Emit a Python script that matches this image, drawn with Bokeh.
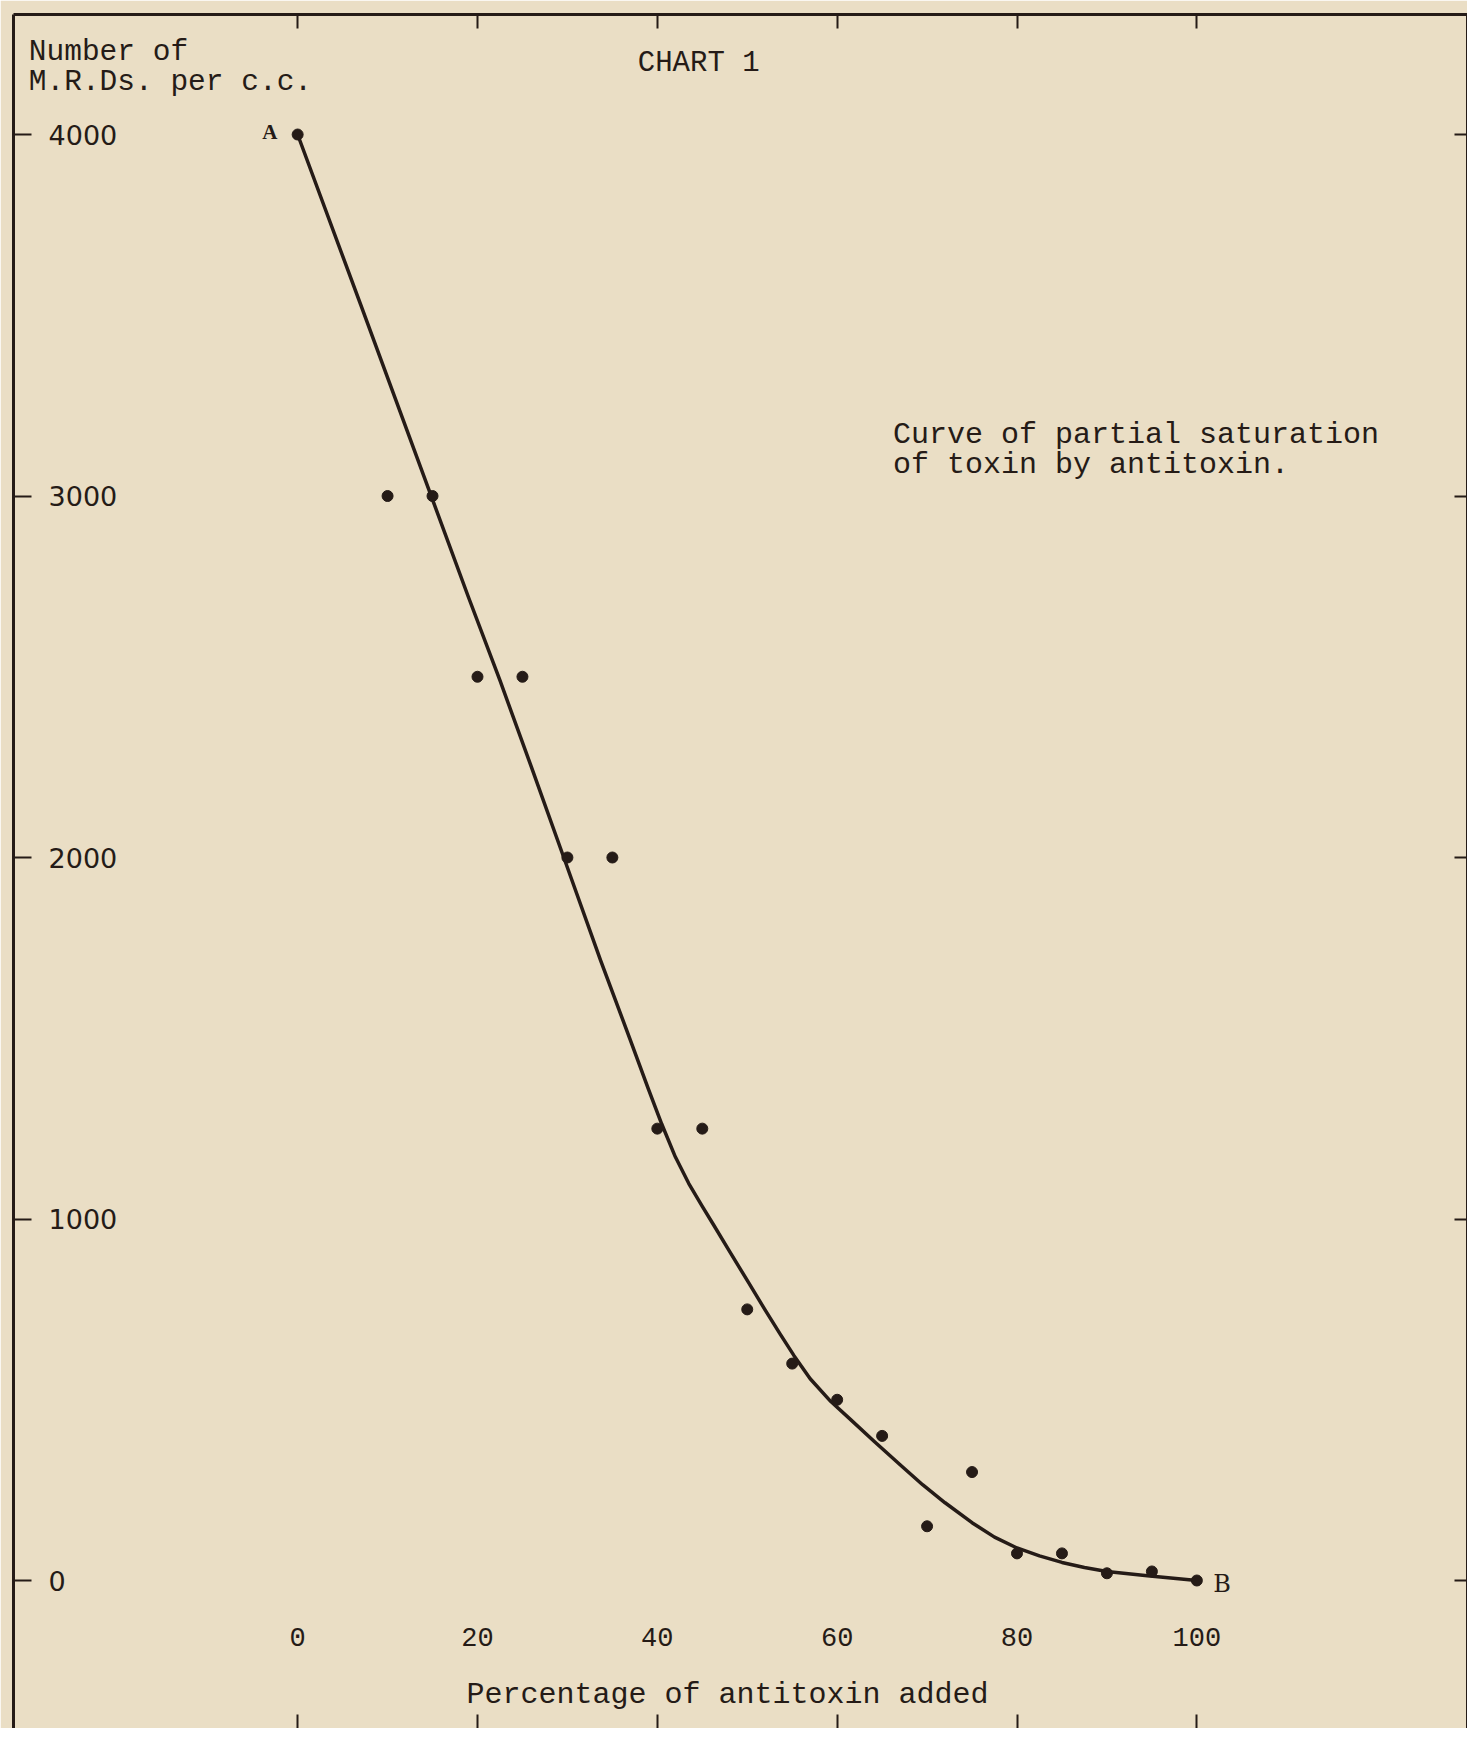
from bokeh.plotting import figure
from bokeh.models import LinearAxis, FixedTicker, Range1d, CustomJSTickFormatter
from bokeh.core.properties import value
from bokeh.embed import file_html
from bokeh.resources import INLINE

# ---- data ----
pct_points = [0, 10, 15, 20, 25, 30, 35, 40, 45, 50, 55, 60, 65, 70, 75, 80, 85, 90, 95, 100]
mrd_points = [4000, 3000, 3000, 2500, 2500, 2000, 2000, 1250, 1250, 750, 600, 500, 400, 150, 300, 75, 75, 20, 25, 0]

# hand-drawn smooth curve
curve_pct = [0, 7, 15, 19, 22.5, 26, 29.6, 33.7, 37, 39, 40.5, 42, 43.5, 45, 46.3, 48, 50, 52, 53.7, 55.2,
             57, 59.3, 61.5, 64.1, 67, 69.5, 72, 75, 77.5, 80, 82.5, 85, 87.5, 90, 94.5, 100]
curve_mrd = [4000, 3530, 2990, 2720, 2490, 2250, 2000, 1715, 1495, 1360, 1262, 1172, 1098, 1035, 982, 912, 830, 748, 680, 622,
             558, 495, 445, 385, 320, 265, 215, 160, 120, 90, 68, 50, 36, 25, 13, 0]

x_ticks = [0, 20, 40, 60, 80, 100]
x_tick_labels = ["0", "20", "40", "60", "80", "100"]
y_ticks = [0, 1000, 2000, 3000, 4000]
y_tick_labels = ["0", "1000", "2000", "3000", "4000"]

title_text = "CHART 1"
y_title_lines = ["Number of", "M.R.Ds. per c.c."]
note_lines = ["Curve of partial saturation", "of toxin by antitoxin."]
x_title = "Percentage of antitoxin added"

PAPER = "#eadec5"
INK = "#251b17"
MONO = "Liberation Mono"

p = figure(width=1467, height=1728, output_backend="svg", toolbar_location=None,
           x_range=Range1d(-31.6, 130.1), y_range=Range1d(-409.4, 4332),
           x_axis_location=None, y_axis_location=None,
           min_border_left=13, min_border_top=14, min_border_right=0, min_border_bottom=0)
p.background_fill_color = PAPER
p.border_fill_color = PAPER
p.outline_line_color = None
p.grid.visible = False

blank = CustomJSTickFormatter(code="return ''")

def make_axis(ticks, tick_in, show_line=True):
    ax = LinearAxis(ticker=FixedTicker(ticks=ticks), formatter=blank)
    ax.major_tick_in = tick_in
    ax.major_tick_out = 0
    ax.minor_tick_in = 0
    ax.minor_tick_out = 0
    ax.major_label_standoff = 0
    ax.major_label_text_font_size = "0px"
    ax.major_tick_line_color = INK
    ax.major_tick_line_width = 2
    ax.axis_line_color = INK if show_line else None
    ax.axis_line_width = 3
    return ax

p.add_layout(make_axis(y_ticks, 18), "left")
p.add_layout(make_axis(y_ticks, 13), "right")
p.add_layout(make_axis(x_ticks, 14), "above")
p.add_layout(make_axis(x_ticks, 14, show_line=False), "below")

# curve and observed points
p.line(curve_pct, curve_mrd, line_color=INK, line_width=3.5, line_join="round", line_cap="round")
p.scatter(pct_points, mrd_points, size=11, color=INK)

# tick labels
p.text(x=[-27.7] * len(y_ticks), y=y_ticks, text=y_tick_labels,
       text_font=value("DejaVu Sans"), text_font_size="27px", text_color=INK,
       text_align="left", text_baseline="middle")
p.text(x=x_ticks, y=[-155] * len(x_ticks), text=x_tick_labels,
       text_font=value(MONO), text_font_size="27px", text_color=INK,
       text_align="center", text_baseline="middle")

# texts
p.text(x=[-29.9, -29.9], y=[4229, 4144], text=y_title_lines,
       text_font=value(MONO), text_font_size="29.5px", text_color=INK,
       text_align="left", text_baseline="middle")
p.text(x=[44.6], y=[4196], text=[title_text],
       text_font=value(MONO), text_font_size="29px", text_color=INK,
       text_align="center", text_baseline="middle")
p.text(x=[66.2, 66.2], y=[3170, 3087], text=note_lines,
       text_font=value(MONO), text_font_size="30px", text_color=INK,
       text_align="left", text_baseline="middle")
p.text(x=[47.8], y=[-318], text=[x_title],
       text_font=value(MONO), text_font_size="30px", text_color=INK,
       text_align="center", text_baseline="middle")
p.text(x=[-3.1], y=[4008], text=["A"],
       text_font=value("Liberation Serif"), text_font_size="21px", text_font_style="bold",
       text_color=INK, text_align="center", text_baseline="middle")
p.text(x=[102.8], y=[-11], text=["B"],
       text_font=value("DejaVu Serif"), text_font_size="24px",
       text_color=INK, text_align="center", text_baseline="middle")

open("out.html", "w").write(file_html(p, INLINE))
